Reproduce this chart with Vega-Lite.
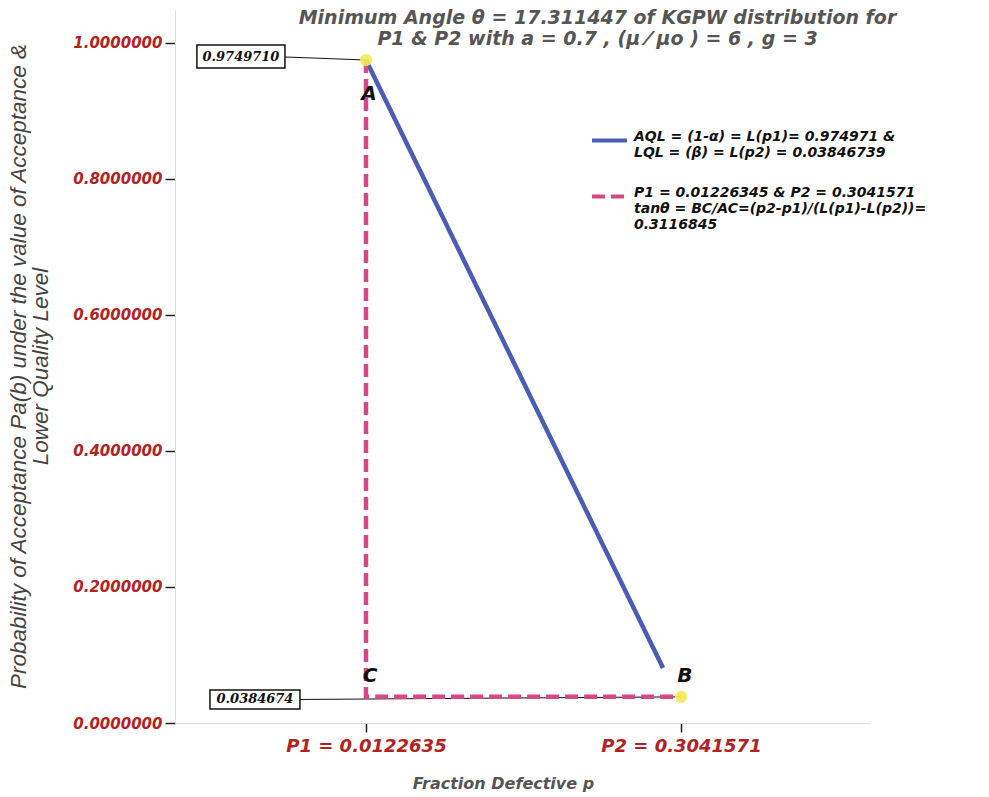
{
  "$schema": "https://vega.github.io/schema/vega-lite/v6.json",
  "width": 695,
  "height": 713,
  "autosize": {"type": "none"},
  "padding": {"left": 175, "top": 10, "right": 119, "bottom": 74},
  "background": "white",
  "title": {
    "text": ["Minimum Angle θ = 17.311447  of KGPW distribution for", "P1 & P2 with a = 0.7 , (μ ⁄ μo ) =  6 , g = 3"],
    "font": "DejaVu Sans",
    "fontSize": 19,
    "fontStyle": "italic",
    "fontWeight": "bold",
    "color": "#555555",
    "anchor": "middle",
    "dx": 75,
    "dy": 43,
    "lineHeight": 21
  },
  "datasets": {
    "lines": [
      {"series": "AQL", "p": 0.0122635, "L": 0.974971, "o": 1},
      {"series": "AQL", "p": 0.2875, "L": 0.081, "o": 2},
      {"series": "P1", "p": 0.0122635, "L": 0.974971, "o": 1},
      {"series": "P1", "p": 0.0122635, "L": 0.0384674, "o": 2},
      {"series": "P1", "p": 0.3041571, "L": 0.0384674, "o": 3}
    ],
    "points": [
      {"name": "A", "p": 0.0122635, "L": 0.974971},
      {"name": "B", "p": 0.3041571, "L": 0.0384674},
      {"name": "C", "p": 0.0122635, "L": 0.0384674}
    ],
    "callouts": [
      {"text": "0.9749710", "p": -0.1444, "p2": -0.0628, "L": 0.9971, "L2": 0.9632, "pc": -0.1036, "Lc": 0.9794, "pt": 0.0122635, "Lt": 0.974971},
      {"text": "0.0384674", "p": -0.1323, "p2": -0.0489, "L": 0.0485, "L2": 0.0206, "pc": -0.0906, "Lc": 0.0346, "pt": 0.3041571, "Lt": 0.0384674}
    ]
  },
  "layer": [
    {
      "data": {"name": "callouts"},
      "mark": {"type": "rule", "color": "#111111", "strokeWidth": 1},
      "encoding": {
        "x": {"field": "p2", "type": "quantitative"},
        "x2": {"field": "pt"},
        "y": {"field": "Lc", "type": "quantitative"},
        "y2": {"field": "Lt"}
      }
    },
    {
      "data": {"name": "lines"},
      "mark": {"type": "line", "strokeWidth": 4.5},
      "encoding": {
        "x": {
          "field": "p",
          "type": "quantitative",
          "scale": {"domain": [-0.1647, 0.4793], "nice": false, "zero": false},
          "axis": {
            "values": [0.0122635, 0.3041571],
            "labelExpr": "datum.value < 0.1 ? 'P1 = 0.0122635' : 'P2 = 0.3041571'",
            "tickSize": 9,
            "labelPadding": 5,
            "labelFont": "DejaVu Sans",
            "labelFontSize": 18,
            "labelFontStyle": "italic",
            "labelFontWeight": "bold",
            "labelColor": "#b22222",
            "title": "Fraction Defective p",
            "titleFont": "DejaVu Sans",
            "titleFontSize": 16,
            "titleFontStyle": "italic",
            "titleFontWeight": "bold",
            "titleColor": "#555555",
            "titlePadding": 20,
            "titleX": 328,
            "titleAlign": "center"
          }
        },
        "y": {
          "field": "L",
          "type": "quantitative",
          "scale": {"domain": [0, 1.0485], "nice": false, "zero": false},
          "axis": {
            "values": [0, 0.2, 0.4, 0.6, 0.8, 1],
            "format": ".7f",
            "tickSize": 10,
            "labelPadding": 3,
            "labelFont": "DejaVu Sans",
            "labelFontSize": 15,
            "labelFontStyle": "italic",
            "labelFontWeight": "bold",
            "labelColor": "#b22222",
            "title": ["Probability of Acceptance Pa(b) under the value of Acceptance &", "Lower Quality Level"],
            "titleFont": "Liberation Sans",
            "titleFontSize": 22.5,
            "titleFontStyle": "italic",
            "titleFontWeight": "normal",
            "titleColor": "#444444",
            "titleAngle": -90,
            "titleX": -157,
            "titleY": 356,
            "titleAlign": "center",
            "titleBaseline": "middle",
            "titleLineHeight": 22
          }
        },
        "color": {
          "field": "series",
          "type": "nominal",
          "scale": {"domain": ["AQL", "P1"], "range": ["#4a5db5", "#d4488a"]},
          "legend": {
            "title": null,
            "labelExpr": "datum.label == 'AQL' ? ['AQL = (1-α) = L(p1)= 0.974971 &', 'LQL = (β) = L(p2) = 0.03846739'] : ['P1 = 0.01226345 & P2 = 0.3041571', 'tanθ = BC/AC=(p2-p1)/(L(p1)-L(p2))=', '0.3116845']"
          }
        },
        "strokeDash": {
          "field": "series",
          "type": "nominal",
          "scale": {"domain": ["AQL", "P1"], "range": [[1, 0], [13, 6]]},
          "legend": {
            "title": null,
            "labelExpr": "datum.label == 'AQL' ? ['AQL = (1-α) = L(p1)= 0.974971 &', 'LQL = (β) = L(p2) = 0.03846739'] : ['P1 = 0.01226345 & P2 = 0.3041571', 'tanθ = BC/AC=(p2-p1)/(L(p1)-L(p2))=', '0.3116845']"
          }
        },
        "order": {"field": "o", "type": "quantitative"}
      }
    },
    {
      "data": {"name": "points"},
      "transform": [{"filter": "datum.name != 'C'"}],
      "mark": {"type": "circle", "color": "#f2ec55", "size": 150, "opacity": 0.9},
      "encoding": {
        "x": {"field": "p", "type": "quantitative"},
        "y": {"field": "L", "type": "quantitative"}
      }
    },
    {
      "data": {"name": "points"},
      "transform": [{"filter": "datum.name == 'A'"}],
      "mark": {"type": "text", "font": "DejaVu Sans", "fontSize": 20, "fontStyle": "italic", "fontWeight": "bold", "color": "#111111", "dx": 3, "dy": 34},
      "encoding": {
        "x": {"field": "p", "type": "quantitative"},
        "y": {"field": "L", "type": "quantitative"},
        "text": {"field": "name"}
      }
    },
    {
      "data": {"name": "points"},
      "transform": [{"filter": "datum.name != 'A'"}],
      "mark": {"type": "text", "font": "DejaVu Sans", "fontSize": 20, "fontStyle": "italic", "fontWeight": "bold", "color": "#111111", "dx": 4, "dy": -21},
      "encoding": {
        "x": {"field": "p", "type": "quantitative"},
        "y": {"field": "L", "type": "quantitative"},
        "text": {"field": "name"}
      }
    },
    {
      "data": {"name": "callouts"},
      "mark": {"type": "rect", "fill": "white", "stroke": "#111111", "strokeWidth": 1.5},
      "encoding": {
        "x": {"field": "p", "type": "quantitative"},
        "x2": {"field": "p2"},
        "y": {"field": "L", "type": "quantitative"},
        "y2": {"field": "L2"}
      }
    },
    {
      "data": {"name": "callouts"},
      "mark": {"type": "text", "font": "DejaVu Serif", "fontSize": 13, "fontStyle": "italic", "fontWeight": "bold", "color": "#111111"},
      "encoding": {
        "x": {"field": "pc", "type": "quantitative"},
        "y": {"field": "Lc", "type": "quantitative"},
        "text": {"field": "text"}
      }
    }
  ],
  "config": {
    "view": {"stroke": null},
    "axis": {"grid": false, "domainColor": "#dddddd", "domainWidth": 1, "tickColor": "#222222", "tickWidth": 1.5},
    "legend": {
      "orient": "none",
      "legendX": 415,
      "legendY": 111,
      "symbolType": "stroke",
      "symbolSize": 1225,
      "symbolStrokeWidth": 4,
      "labelFont": "DejaVu Sans",
      "labelFontSize": 14,
      "labelFontStyle": "italic",
      "labelFontWeight": "bold",
      "labelColor": "#111111",
      "labelBaseline": "alphabetic",
      "labelOffset": 5,
      "labelLimit": 500,
      "rowPadding": 17
    }
  }
}
